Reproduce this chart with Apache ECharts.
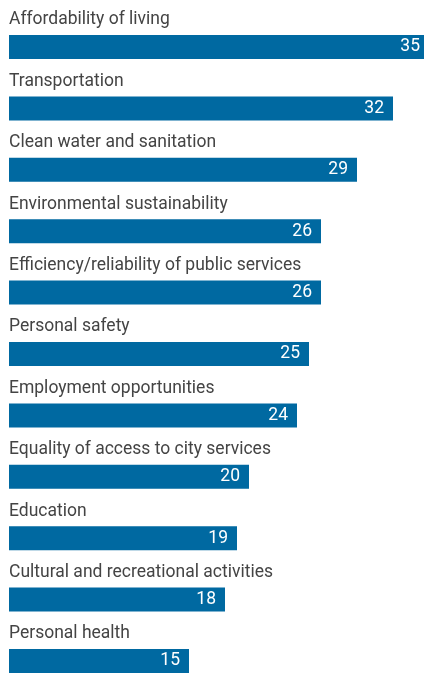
<!DOCTYPE html>
<html>
<head>
<meta charset="utf-8">
<style>
  html, body { margin: 0; padding: 0; background: #fff; }
  #chart { width: 424px; height: 673px; }
</style>
<script src="https://cdn.jsdelivr.net/npm/echarts@6/dist/echarts.min.js"></script>
</head>
<body>
<div id="chart"></div>
<script>
const categories = [
  "Affordability of living",
  "Transportation",
  "Clean water and sanitation",
  "Environmental sustainability",
  "Efficiency/reliability of public services",
  "Personal safety",
  "Employment opportunities",
  "Equality of access to city services",
  "Education",
  "Cultural and recreational activities",
  "Personal health"
];
const values = [35, 32, 29, 26, 26, 25, 24, 20, 19, 18, 15];

const FONT = 'Roboto, sans-serif';
const chart = echarts.init(document.getElementById('chart'), null, { renderer: 'canvas' });
chart.setOption({
  animation: false,
  grid: { left: 9, top: 16.3, width: 420, height: 675.4, containLabel: false, outerBoundsMode: 'none' },
  xAxis: {
    type: 'value', min: 0, max: 35,
    show: false
  },
  yAxis: {
    type: 'category', inverse: true, data: categories,
    axisLine: { show: false }, axisTick: { show: false }, splitLine: { show: false },
    axisLabel: {
      inside: true, align: 'left', verticalAlign: 'bottom',
      padding: [0, 0, 17, 0], margin: 0,
      fontFamily: FONT, fontSize: 17.5, lineHeight: 20, color: '#444'
    }
  },
  series: [{
    type: 'bar', data: values, barWidth: 24, clip: true,
    itemStyle: { color: '#0069a1' },
    label: {
      show: true, position: 'insideRight', distance: 9,
      color: '#fff', fontFamily: FONT, fontSize: 17.5
    }
  }]
});
</script>
</body>
</html>
